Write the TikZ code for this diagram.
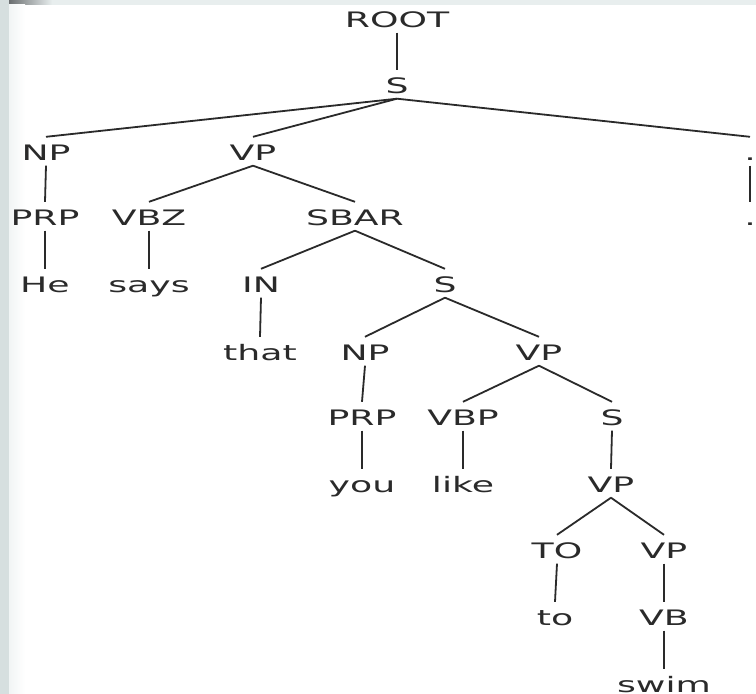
\documentclass[tikz,border=0pt]{standalone}
\usepackage{fontspec}
\newfontfamily\treefont[FakeStretch=1.7]{DejaVu Sans}
\definecolor{ink}{HTML}{2A2A2A}
\definecolor{framecol}{HTML}{D6DFDF}
\definecolor{topbar}{HTML}{E8EEEE}
\definecolor{darkbar}{HTML}{6A6E70}
\begin{document}
\begin{tikzpicture}[x=1pt,y=-1pt,
  lab/.style={font=\treefont\fontsize{21.3}{24}\selectfont, text=ink, anchor=base,
    inner xsep=0pt, inner ysep=0pt, text height=23pt, text depth=5.5pt},
  br/.style={draw=ink, line width=1.8pt}]
\useasboundingbox (0,0) rectangle (756,694);
\fill[white] (0,0) rectangle (756,694);
\fill[framecol] (0,0) rectangle (9,694);
\fill[topbar] (9,0) rectangle (756,4.5);
\shade[left color=darkbar, right color=topbar] (9,0) rectangle (52,4.5);
\shade[left color=topbar!60, right color=white] (9,4.5) rectangle (25,694);

\node[lab] (root) at (397,27) {ROOT};
\node[lab] (s1) at (397,93) {S};
\node[lab] (np1) at (46,160) {NP};
\node[lab] (vp1) at (253,160) {VP};
\node[lab] (pu1) at (750,160) {.};
\node[lab] (prp1) at (45,225) {PRP};
\node[lab] (vbz) at (149,225) {VBZ};
\node[lab] (sbar) at (355,225) {SBAR};
\node[lab] (pu2) at (750,225) {.};
\node[lab] (he) at (45,292) {He};
\node[lab] (says) at (149,292) {says};
\node[lab] (in) at (261,292) {IN};
\node[lab] (s2) at (445,292) {S};
\node[lab] (that) at (260,360) {that};
\node[lab] (np2) at (365,360) {NP};
\node[lab] (vp2) at (539,360) {VP};
\node[lab] (prp2) at (362,425) {PRP};
\node[lab] (vbp) at (463,425) {VBP};
\node[lab] (s3) at (612,425) {S};
\node[lab] (you) at (362,492) {you};
\node[lab] (like) at (463,492) {like};
\node[lab] (vp3) at (611,492) {VP};
\node[lab] (to1) at (557,558) {TO};
\node[lab] (vp4) at (664,558) {VP};
\node[lab] (to2) at (555,625) {to};
\node[lab] (vb) at (664,625) {VB};
\node[lab] (swim) at (664,692) {swim};

\draw[br] (root.south) -- (s1.north);
\draw[br] (s1.south) -- (np1.north);
\draw[br] (s1.south) -- (vp1.north);
\draw[br] (s1.south) -- (pu1.north);
\draw[br] (np1.south) -- (prp1.north);
\draw[br] (prp1.south) -- (he.north);
\draw[br] (vp1.south) -- (vbz.north);
\draw[br] (vp1.south) -- (sbar.north);
\draw[br] (vbz.south) -- (says.north);
\draw[br] (pu1.south) -- (pu2.north);
\draw[br] (sbar.south) -- (in.north);
\draw[br] (sbar.south) -- (s2.north);
\draw[br] (in.south) -- (that.north);
\draw[br] (s2.south) -- (np2.north);
\draw[br] (s2.south) -- (vp2.north);
\draw[br] (np2.south) -- (prp2.north);
\draw[br] (prp2.south) -- (you.north);
\draw[br] (vp2.south) -- (vbp.north);
\draw[br] (vp2.south) -- (s3.north);
\draw[br] (vbp.south) -- (like.north);
\draw[br] (s3.south) -- (vp3.north);
\draw[br] (vp3.south) -- (to1.north);
\draw[br] (vp3.south) -- (vp4.north);
\draw[br] (to1.south) -- (to2.north);
\draw[br] (vp4.south) -- (vb.north);
\draw[br] (vb.south) -- (swim.north);
\end{tikzpicture}
\end{document}
